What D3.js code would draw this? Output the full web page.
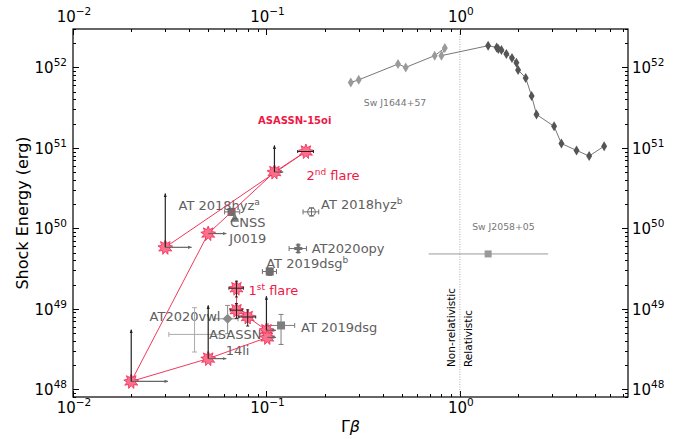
<!DOCTYPE html>
<html lang="en">
  <head>
    <meta charset="utf-8">
    <title>Shock energy vs Gamma beta</title>
    <script src="https://d3js.org/d3.v7.min.js"></script>
    <style>
      body { margin: 0; background: white; }
      text { font-family: "DejaVu Sans", sans-serif; }
      .axis path { display: none; }
      .axis line { stroke: black; stroke-width: 1; shape-rendering: crispEdges; }
    </style>
  </head>
  <body>
    <script>
      // frame of the plot, in pixels
      var w = 685, h = 439;
      var frameL = 73, frameR = 628, frameT = 29, frameB = 397;

      // tick values
      var xMajor = [0.01, 0.1, 1];
      var xMajorExp = ["\u22122", "\u22121", "0"];
      var yMajor = [1e48, 1e49, 1e50, 1e51, 1e52];
      var yMajorExp = ["48", "49", "50", "51", "52"];

      // ASASSN-15oi, in time order
      var oiGB = [0.07, 0.07, 0.08, 0.1, 0.101, 0.05, 0.02, 0.05, 0.11, 0.16, 0.03];
      var oiE = [1.8e49, 9.6e48, 7.9e48, 5.4e48, 4.4e48, 2.4e48, 1.25e48, 8.6e49, 5.0e50, 9.0e50, 5.8e49];
      var oiGBerr = [0.006, 0.005, 0.008, 0, 0, 0, 0, 0, 0, 0.015, 0];
      var oiEerr = [4e48, 2e48, 1.8e48, 0, 0, 0, 0, 0, 0, 0, 0];
      // lower limits (arrows): energy arrow tip, Gamma-beta arrow tip
      var oiEup = [0, 0, 0, 1.43e49, 0, 1.1e49, 5.5e48, 0, 1.07e51, 0, 2.7e50];
      var oiGBup = [0, 0, 0, 0.112, 0.112, 0.062, 0.031, 0.062, 0.122, 0, 0.041];

      // other TDEs
      var tdeName = ["AT 2018hyz", "CNSS\nJ0019", "AT 2018hyz", "AT2020opy", "AT 2019dsg", "AT 2019dsg", "AT2020vwl", "ASASSN-\n14li"];
      var tdeSup = ["a", "", "b", "", "b", "", "", ""];
      var tdeGB = [0.066, 0.0686, 0.171, 0.146, 0.104, 0.119, 0.063, 0.0425];
      var tdeE = [1.6e50, 1.33e50, 1.6e50, 5.6e49, 2.9e49, 6.2e48, 7.5e48, 4.8e48];
      var tdeGBlo = [0.0608, 0, 0.1546, 0.131, 0.0953, 0.1019, 0.0541, 0.0313];
      var tdeGBhi = [0.0728, 0, 0.1864, 0.161, 0.1127, 0.140, 0.0713, 0.0574];
      var tdeElo = [1.45e50, 0, 1.42e50, 5.0e49, 2.6e49, 3.6e48, 4.9e48, 2.9e48];
      var tdeEhi = [1.75e50, 0, 1.8e50, 6.2e49, 3.2e49, 8.5e48, 1.1e49, 1.03e49];
      var tdeMarker = ["square", "triangle", "circle", "plus", "square", "square", "diamond", "none"];
      var tdeColor = ["#6e6e6e", "#7a7a7a", "#6e6e6e", "#707070", "#6e6e6e", "#7e7e7e", "#8a8a8a", "#aaaaaa"];

      // Sw J1644+57 (early part light, late part dark)
      var j1644GB = [0.273, 0.300, 0.479, 0.525, 0.741, 0.836, 0.803];
      var j1644E = [6.5e51, 7.0e51, 1.10e52, 1.0e52, 1.40e52, 1.74e52, 1.40e52];
      var j1644lateGB = [1.40, 1.55, 1.58, 1.64, 1.74, 1.86, 1.96, 2.0, 2.19, 2.35, 2.49, 3.07, 3.35, 4.01, 4.66, 5.57];
      var j1644lateE = [1.86e52, 1.77e52, 1.69e52, 1.65e52, 1.47e52, 1.31e52, 1.14e52, 9.3e51, 7.4e51, 4.4e51, 2.6e51, 1.85e51, 1.13e51, 9.3e50, 7.9e50, 1.05e51];

      // Sw J2058+05
      var j2058GB = [1.4];
      var j2058E = [4.8e49];
      var j2058GBlo = [0.69];
      var j2058GBhi = [2.86];

      var red = "#ee1846";

      var svg = d3.select("body").append("svg").attr("width", w).attr("height", h);

      var x = d3.scaleLog().domain([0.01, 7.4]).range([frameL, frameR]);
      var y = d3.scaleLog().domain([8e47, 3e52]).range([frameB, frameT]);

      // minor ticks
      var xMinor = [];
      [0.01, 0.1, 1].forEach(function(d) {
        for (var k = 2; k <= 9; k++) { if (d * k <= 7.4) xMinor.push(d * k); }
      });
      var yMinor = [8e47, 9e47];
      yMajor.forEach(function(d) {
        for (var k = 2; k <= 9; k++) { if (d * k <= 3e52) yMinor.push(d * k); }
      });

      function addAxis(axisFn, scale, values, size, transform) {
        svg.append("g")
          .attr("class", "axis")
          .attr("transform", transform)
          .call(axisFn(scale).tickValues(values).tickSize(size).tickFormat(""));
      }
      addAxis(d3.axisBottom, x, xMajor, -6, "translate(0," + frameB + ")");
      addAxis(d3.axisBottom, x, xMinor, -3, "translate(0," + frameB + ")");
      addAxis(d3.axisTop, x, xMajor, -6, "translate(0," + frameT + ")");
      addAxis(d3.axisTop, x, xMinor, -3, "translate(0," + frameT + ")");
      addAxis(d3.axisLeft, y, yMajor, -6, "translate(" + frameL + ",0)");
      addAxis(d3.axisLeft, y, yMinor, -3, "translate(" + frameL + ",0)");
      addAxis(d3.axisRight, y, yMajor, -6, "translate(" + frameR + ",0)");
      addAxis(d3.axisRight, y, yMinor, -3, "translate(" + frameR + ",0)");

      svg.append("rect")
        .attr("x", frameL).attr("y", frameT)
        .attr("width", frameR - frameL).attr("height", frameB - frameT)
        .attr("fill", "none").attr("stroke", "black").attr("stroke-width", 1.2);

      // power-of-ten tick labels
      function powLabel(px, py, exp, anchor) {
        var t = svg.append("text")
          .attr("x", px).attr("y", py)
          .attr("text-anchor", anchor)
          .style("font-size", "15px");
        t.append("tspan").text("10");
        t.append("tspan").attr("dy", -7).style("font-size", "10.5px").text(exp);
      }
      xMajor.forEach(function(d, i) {
        powLabel(x(d) + 1, frameB + 16, xMajorExp[i], "middle");
        powLabel(x(d) + 1, frameT - 7, xMajorExp[i], "middle");
      });
      yMajor.forEach(function(d, i) {
        powLabel(frameL - 6, y(d) + 6, yMajorExp[i], "end");
        powLabel(frameR + 4, y(d) + 6, yMajorExp[i], "start");
      });

      // axis titles
      svg.append("text")
        .attr("transform", "translate(28," + ((frameT + frameB) / 2) + ") rotate(-90)")
        .attr("text-anchor", "middle")
        .style("font-size", "16px")
        .text("Shock Energy (erg)");
      var xt = svg.append("text")
        .attr("x", (frameL + frameR) / 2).attr("y", frameB + 35)
        .attr("text-anchor", "middle")
        .style("font-size", "16px");
      xt.append("tspan").text("\u0393");
      xt.append("tspan").style("font-style", "italic").text("\u03b2");

      // Gamma-beta = 1 divider
      svg.append("line")
        .attr("x1", x(1)).attr("x2", x(1))
        .attr("y1", frameT).attr("y2", frameB)
        .attr("stroke", "#999").attr("stroke-width", 0.8)
        .attr("stroke-dasharray", "1,1.5");
      svg.append("text")
        .attr("transform", "translate(" + (x(1) - 5) + ",367) rotate(-90)")
        .style("font-size", "10.5px")
        .text("Non-relativistic");
      svg.append("text")
        .attr("transform", "translate(" + (x(1) + 12) + ",367) rotate(-90)")
        .style("font-size", "10.5px")
        .text("Relativistic");

      // arrow heads
      var defs = svg.append("defs");
      [["headBlack", "#222"], ["headGray", "#666"]].forEach(function(m) {
        defs.append("marker")
          .attr("id", m[0])
          .attr("viewBox", "0 0 10 10")
          .attr("refX", 9).attr("refY", 5)
          .attr("markerWidth", 4).attr("markerHeight", 4)
          .attr("markerUnits", "userSpaceOnUse")
          .attr("orient", "auto")
          .append("path").attr("d", "M0,1L10,5L0,9Z").attr("fill", m[1]);
      });

      function errLine(x1, y1, x2, y2, color, cap, vertical) {
        svg.append("line")
          .attr("x1", x1).attr("y1", y1).attr("x2", x2).attr("y2", y2)
          .attr("stroke", color).attr("stroke-width", 1);
        if (cap > 0) {
          [[x1, y1], [x2, y2]].forEach(function(p) {
            if (vertical) {
              svg.append("line").attr("x1", p[0] - cap).attr("x2", p[0] + cap)
                .attr("y1", p[1]).attr("y2", p[1]).attr("stroke", color);
            } else {
              svg.append("line").attr("x1", p[0]).attr("x2", p[0])
                .attr("y1", p[1] - cap).attr("y2", p[1] + cap).attr("stroke", color);
            }
          });
        }
      }

      // Sw J1644+57
      var j1644All = j1644GB.map(function(d, i) { return [d, j1644E[i]]; })
        .concat(j1644lateGB.map(function(d, i) { return [d, j1644lateE[i]]; }));
      svg.append("path")
        .datum(j1644All)
        .attr("d", d3.line().x(function(d) { return x(d[0]); }).y(function(d) { return y(d[1]); }))
        .attr("fill", "none").attr("stroke", "#777").attr("stroke-width", 1);
      var thinDiamond = "M0,-5L3,0L0,5L-3,0Z";
      svg.selectAll(".j1644")
        .data(j1644GB)
        .enter().append("path")
        .attr("d", thinDiamond)
        .attr("transform", function(d, i) { return "translate(" + x(d) + "," + y(j1644E[i]) + ")"; })
        .attr("fill", "#9a9a9a");
      svg.selectAll(".j1644late")
        .data(j1644lateGB)
        .enter().append("path")
        .attr("d", thinDiamond)
        .attr("transform", function(d, i) { return "translate(" + x(d) + "," + y(j1644lateE[i]) + ")"; })
        .attr("fill", "#555");
      svg.append("text")
        .attr("x", x(j1644GB[0]) + 13).attr("y", y(j1644E[0]) + 24)
        .attr("fill", "#777").style("font-size", "9.3px")
        .text("Sw J1644+57");

      // Sw J2058+05
      j2058GB.forEach(function(d, i) {
        errLine(x(j2058GBlo[i]), y(j2058E[i]), x(j2058GBhi[i]), y(j2058E[i]), "#999", 0, false);
        svg.append("rect")
          .attr("x", x(d) - 3.5).attr("y", y(j2058E[i]) - 3.5)
          .attr("width", 7).attr("height", 7).attr("fill", "#999");
        svg.append("text")
          .attr("x", x(d) - 16).attr("y", y(j2058E[i]) - 24)
          .attr("fill", "#777").style("font-size", "9.3px")
          .text("Sw J2058+05");
      });

      // other TDEs
      var labelDx = [-53, 13, 9.5, 13.5, -3.5, 20, -78, 43];
      var labelDy = [-2, 9, -3, 4, -3.5, 7, 2.5, 5];
      tdeGB.forEach(function(d, i) {
        var px = x(d), py = y(tdeE[i]), c = tdeColor[i];
        if (tdeGBlo[i]) errLine(x(tdeGBlo[i]), py, x(tdeGBhi[i]), py, c, 2.5, false);
        if (tdeElo[i]) errLine(px, y(tdeElo[i]), px, y(tdeEhi[i]), c, 2.5, true);
        var m = tdeMarker[i];
        if (m === "square") {
          svg.append("rect").attr("x", px - 4).attr("y", py - 4).attr("width", 8).attr("height", 8).attr("fill", c);
        } else if (m === "triangle") {
          svg.append("path").attr("d", "M0,-5L4.5,3.5L-4.5,3.5Z")
            .attr("transform", "translate(" + px + "," + py + ")").attr("fill", c);
        } else if (m === "circle") {
          svg.append("circle").attr("cx", px).attr("cy", py).attr("r", 4)
            .attr("fill", "white").attr("stroke", c).attr("stroke-width", 1);
          errLine(px - 4, py, px + 4, py, c, 0, false);
          errLine(px, py - 4, px, py + 4, c, 0, true);
        } else if (m === "plus") {
          svg.append("path").attr("d", "M-4,-1.5H4V1.5H-4Z M-1.5,-5H1.5V5H-1.5Z")
            .attr("transform", "translate(" + px + "," + py + ")").attr("fill", c);
        } else if (m === "diamond") {
          svg.append("path").attr("d", "M0,-5L5,0L0,5L-5,0Z")
            .attr("transform", "translate(" + px + "," + py + ")").attr("fill", c);
        }
        var lines = tdeName[i].split("\n");
        var t = svg.append("text")
          .attr("x", px + labelDx[i]).attr("y", py + labelDy[i])
          .attr("text-anchor", lines.length > 1 ? "middle" : "start")
          .attr("fill", "#606060").style("font-size", "13px");
        lines.forEach(function(s, k) {
          t.append("tspan").attr("x", px + labelDx[i]).attr("dy", k === 0 ? 0 : 15.5).text(s);
        });
        if (tdeSup[i]) t.append("tspan").attr("dy", -5).style("font-size", "9px").text(tdeSup[i]);
      });

      // ASASSN-15oi track
      svg.append("path")
        .datum(oiGB.map(function(d, i) { return [d, oiE[i]]; }))
        .attr("d", d3.line().x(function(d) { return x(d[0]); }).y(function(d) { return y(d[1]); }))
        .attr("fill", "none").attr("stroke", "#f2385c").attr("stroke-width", 1);

      function starPath(r1, r2, n) {
        var pts = [];
        for (var k = 0; k < 2 * n; k++) {
          var r = k % 2 === 0 ? r1 : r2;
          var a = Math.PI * k / n - Math.PI / 2;
          pts.push([(r * Math.cos(a)).toFixed(2), (r * Math.sin(a)).toFixed(2)]);
        }
        return "M" + pts.join("L") + "Z";
      }
      svg.selectAll(".oi")
        .data(oiGB)
        .enter().append("path")
        .attr("d", starPath(7.5, 4.2, 9))
        .attr("transform", function(d, i) { return "translate(" + x(d) + "," + y(oiE[i]) + ")"; })
        .attr("fill", "#ff6f8c").attr("stroke", "#ee2a50").attr("stroke-width", 0.8);

      oiGB.forEach(function(d, i) {
        var px = x(d), py = y(oiE[i]);
        if (oiGBerr[i]) errLine(x(d - oiGBerr[i]), py, x(d + oiGBerr[i]), py, "#222", 1.5, false);
        if (oiEerr[i]) errLine(px, y(oiE[i] - oiEerr[i]), px, y(oiE[i] + oiEerr[i]), "#222", 1.5, true);
        if (oiGBup[i]) {
          svg.append("line").attr("x1", px).attr("y1", py).attr("x2", x(oiGBup[i])).attr("y2", py)
            .attr("stroke", "#666").attr("stroke-width", 1.2).attr("marker-end", "url(#headGray)");
        }
        if (oiEup[i]) {
          svg.append("line").attr("x1", px).attr("y1", py).attr("x2", px).attr("y2", y(oiEup[i]))
            .attr("stroke", "#222").attr("stroke-width", 1.2).attr("marker-end", "url(#headBlack)");
        }
      });

      svg.append("text")
        .attr("x", 258).attr("y", 124)
        .attr("fill", red).style("font-size", "10px").style("font-weight", "bold")
        .text("ASASSN-15oi");
      [["2", "nd", 306.5, 180], ["1", "st", 248.5, 295]].forEach(function(f) {
        var t = svg.append("text").attr("x", f[2]).attr("y", f[3])
          .attr("fill", red).style("font-size", "13px");
        t.append("tspan").text(f[0]);
        t.append("tspan").attr("dy", -5).style("font-size", "9px").text(f[1]);
        t.append("tspan").attr("dy", 5).text(" flare");
      });
    </script>
  </body>
</html>
